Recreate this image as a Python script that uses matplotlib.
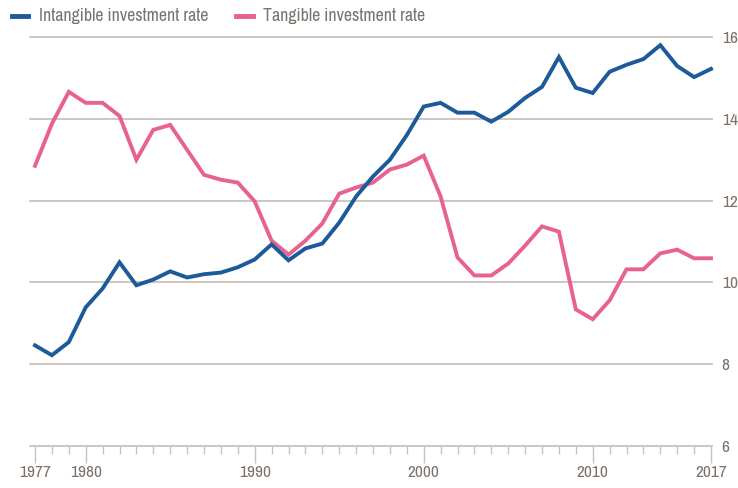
import numpy as np
import matplotlib.pyplot as plt
from matplotlib.lines import Line2D

years = list(range(1977, 2018))
intangible = [8.46, 8.22, 8.54, 9.39, 9.85, 10.49, 9.93, 10.07, 10.27, 10.12,
              10.20, 10.24, 10.37, 10.56, 10.93, 10.54, 10.83, 10.95, 11.46, 12.10,
              12.59, 13.00, 13.60, 14.30, 14.39, 14.15, 14.15, 13.93, 14.17, 14.51,
              14.78, 15.51, 14.76, 14.63, 15.15, 15.32, 15.46, 15.80, 15.29, 15.02,
              15.22]
tangible = [12.85, 13.88, 14.66, 14.39, 14.39, 14.07, 13.00, 13.73, 13.85, 13.24,
            12.63, 12.51, 12.44, 11.98, 11.02, 10.68, 11.02, 11.44, 12.17, 12.32,
            12.44, 12.76, 12.88, 13.10, 12.10, 10.61, 10.17, 10.17, 10.46, 10.90,
            11.37, 11.24, 9.34, 9.10, 9.56, 10.32, 10.32, 10.71, 10.80, 10.59,
            10.59]
y_ticks = [6, 8, 10, 12, 14, 16]
x_labels = [1977, 1980, 1990, 2000, 2010, 2017]

blue = '#1c5a99'
pink = '#e8628f'
grid_col = '#cdc2bb'
txt_col = '#7b726b'

plt.rcParams['font.family'] = ['Archivo Narrow', 'DejaVu Sans']

fig = plt.figure(figsize=(7.38, 4.88), dpi=100)
ax = fig.add_axes([30/738, 1 - 446/488, 682/738, (446 - 37)/488])
ax.set_xlim(1977 - 5/16.9, 2017 + 1/16.9)
ax.set_ylim(6, 16)

# horizontal gridlines
for v in y_ticks:
    ax.axhline(v, color=grid_col, lw=1.3, zorder=1, clip_on=False)

ax.plot(years, tangible, color=pink, lw=2.8, zorder=3, clip_on=False,
        solid_joinstyle='miter')
ax.plot(years, intangible, color=blue, lw=2.8, zorder=4, clip_on=False,
        solid_joinstyle='miter')

for s in ax.spines.values():
    s.set_visible(False)

ax.yaxis.tick_right()
ax.set_yticks(y_ticks)
ax.set_yticklabels([str(v) for v in y_ticks])
ax.tick_params(axis='y', length=0, pad=7, labelsize=12.5, labelcolor=txt_col)

ax.set_xticks(x_labels)
ax.set_xticklabels([str(v) for v in x_labels])
ax.set_xticks(years, minor=True)
ax.tick_params(axis='x', which='major', length=12, width=1, color=grid_col,
               labelsize=12.5, labelcolor=txt_col, pad=2)
ax.tick_params(axis='x', which='minor', length=6, width=1, color=grid_col)

# legend along the top
leg_y = 1 - 16/488
fig.add_artist(Line2D([12/738, 28/738], [leg_y, leg_y], color=blue, lw=3.5))
fig.text(39/738, leg_y, 'Intangible investment rate', color=txt_col,
         fontsize=12.8, va='center', ha='left')
fig.add_artist(Line2D([236/738, 253/738], [leg_y, leg_y], color=pink, lw=3.5))
fig.text(263/738, leg_y, 'Tangible investment rate', color=txt_col,
         fontsize=12.8, va='center', ha='left')

fig.savefig('out.png', dpi=100)
